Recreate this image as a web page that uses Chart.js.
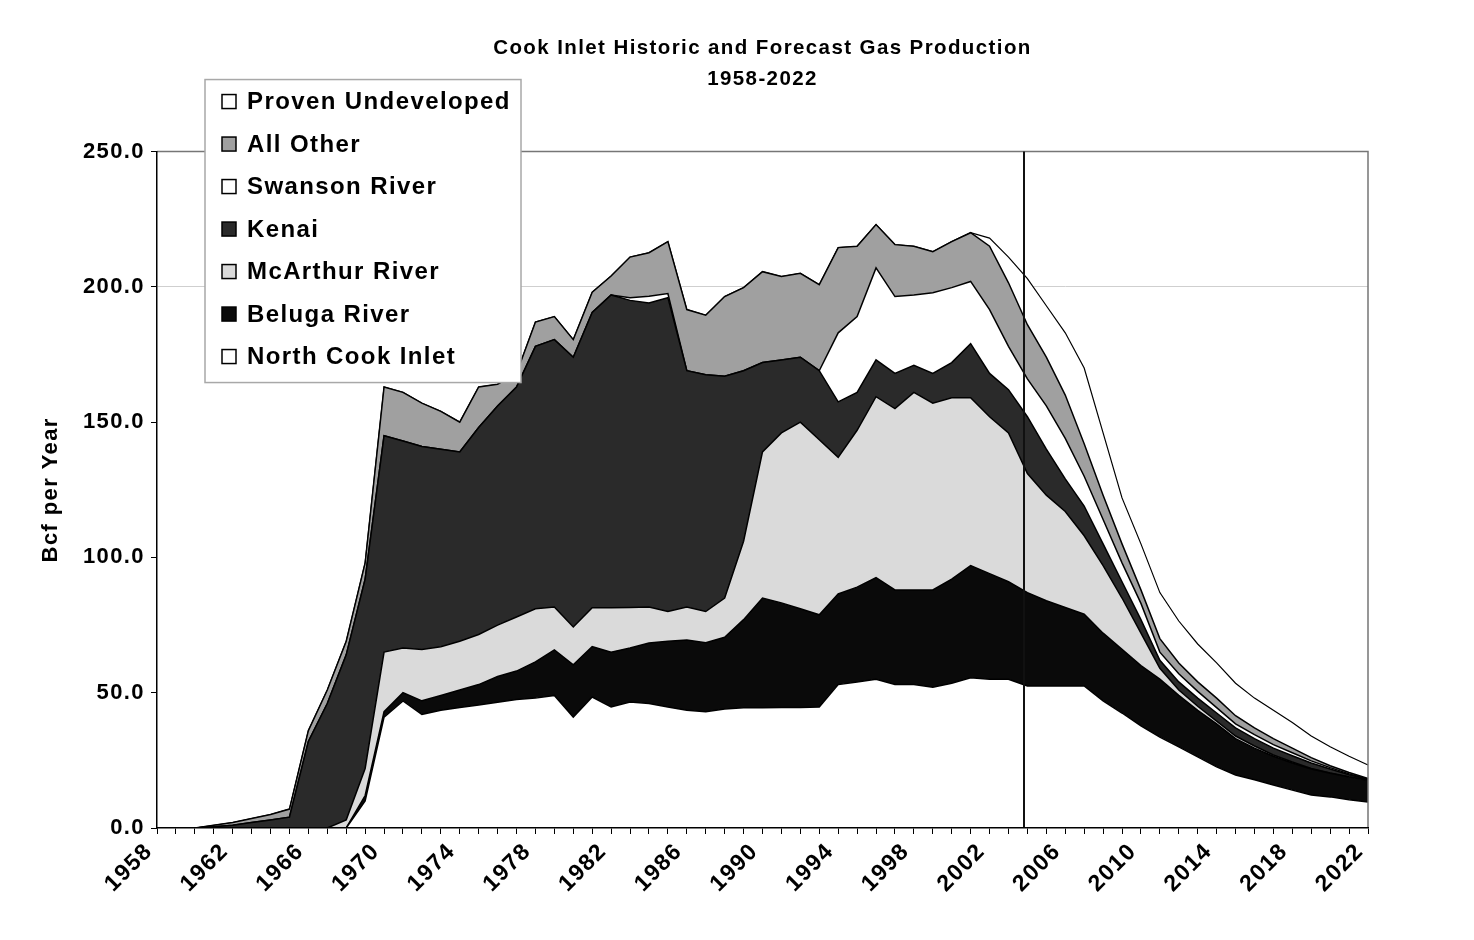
<!DOCTYPE html>
<html>
<head>
<meta charset="utf-8">
<title>Cook Inlet Historic and Forecast Gas Production</title>
<script src="https://cdn.jsdelivr.net/npm/chart.js@4.4.1/dist/chart.umd.min.js"></script>
<style>
  html, body { margin: 0; padding: 0; background: #fff; }
  #wrap { width: 1474px; height: 940px; }
</style>
</head>
<body>
<div id="wrap"><canvas id="gasChart" width="1474" height="940"></canvas></div>
<script>
// categories (years) and the point where the forecast begins
const years = ["1958","1959","1960","1961","1962","1963","1964","1965","1966","1967",
  "1968","1969","1970","1971","1972","1973","1974","1975","1976","1977",
  "1978","1979","1980","1981","1982","1983","1984","1985","1986","1987",
  "1988","1989","1990","1991","1992","1993","1994","1995","1996","1997",
  "1998","1999","2000","2001","2002","2003","2004","2005","2006","2007",
  "2008","2009","2010","2011","2012","2013","2014","2015","2016","2017",
  "2018","2019","2020","2021","2022"];
const forecastStart = "2004";

// Bcf per year (stacked bottom to top)
const northCook = [0,0,0,0,0,0,0,0,0,0,0,
  10,41,47,42,43.5,44.5,45.5,46.5,47.5,48,49,
  41,48.4,44.7,46.6,46,44.7,43.5,43,44,44.4,
  44.4,44.5,44.5,44.7,53,54,55,53,53,52,
  53.5,55.5,55,55,52.5,52.5,52.5,52.5,47,42.5,
  37.7,33.6,30,26.3,22.6,19.6,17.8,15.9,14,12.2,
  11.5,10.4,9.6];
const beluga = [0,0,0,0,0,0,0,0,0,0,0,
  2,2,3,5,5.5,6.5,7.5,9.5,10.5,13.4,16.8,
  19.3,18.6,20.3,19.9,22.4,24.3,26,25.5,26.5,32.6,
  40.6,38.7,36.5,34.1,33.5,35,37.5,35,35,36,
  38.5,41.5,39,36,34.5,31.5,29,26.5,25,23.5,
  22.3,21.4,19,17.2,15.9,13.4,11.7,10.6,10,9.6,
  8.7,8.4,8];
const mcarthur = [0,0,0,0,0,0,0,0,0,0,3,
  10,22,16.5,19,18,18,18.5,19,20,19.6,15.9,
  14,14.4,16.4,15,13.3,11,12.2,11.5,14.5,29,
  54,62.8,69,64.7,50.5,58,66.9,67,73,69,
  67,62,58,55,44,39,35.5,29,25,19,
  12,4,2,1.5,1,1,0.8,0.5,0.4,0.2,
  0.1,0.1,0.1];
const kenai = [0,0,0,0.5,1,2,3,4,32,46,61,
  70,80,76.5,75,73,70,76.5,81,85,97,98.8,
  99.7,109.1,115.6,113.5,112.3,116,87.3,87.5,82,63,
  33,27,24,25.5,20.5,14,13.6,13,10,11,
  13,20,16,16,21,17,12,11,8,6,
  5,3,3,3,3,3,2.7,2.5,2.3,2,
  1.5,0.8,0.2];
const swanson = [0,0,0,0,0,0,0,0,0,0,0,
  0,0,0,0,0,0,0,0,0,0,0,
  0,0,0,1,2.5,1.5,0,0,0,0,
  0,0,0,0,25.5,28,34,28.4,26,29.8,
  27.7,23,23.6,16,14,16,15,11,9,7,
  6,3,3,2.5,2,1.5,1.5,1.3,1.1,0.8,
  0.5,0.3,0.1];
const allOther = [0,0,0,0.5,1,1.5,2,3,4,5,5,
  6,18,18,16,14,11,15,8,5,9,8.5,
  6.5,7.5,7,15,16.1,19.2,22.6,22,29.4,30.7,
  33.6,30.8,31,31.8,31.5,26,16,19.2,18,15.2,
  17,18,23.4,23.5,20,18,16,12,9,7,
  5,5,4,3.5,3.5,3,2.5,2.2,1.7,1.2,
  0.7,0.5,0.3];
const provenUndev = [0,0,0,0,0,0,0,0,0,0,0,
  0,0,0,0,0,0,0,0,0,0,0,
  0,0,0,0,0,0,0,0,0,0,
  0,0,0,0,0,0,0,0,0,0,
  0,0,3,9.5,17,19,23,28,23,17,
  17,17,15.5,14,13,12,11,10.5,9.5,8,
  7,6,5];

const yTicks = [0, 50, 100, 150, 200, 250];

Chart.defaults.font.family = '"Liberation Sans", Arial, Helvetica, sans-serif';
Chart.defaults.font.weight = 'bold';
Chart.defaults.color = '#000';

// the scanned original has loosely spaced lettering
const spacing = {
  id: 'spacing',
  beforeLayout(chart) { chart.ctx.letterSpacing = '1.4px'; },
  beforeDraw(chart) { chart.ctx.letterSpacing = '1.4px'; }
};

// grey frame on top/right and the historic/forecast divider
const frame = {
  id: 'frame',
  afterDatasetsDraw(chart) {
    const { ctx, chartArea } = chart;
    const xs = chart.scales.x;
    ctx.save();
    ctx.strokeStyle = '#767676';
    ctx.lineWidth = 1.5;
    ctx.beginPath();
    ctx.moveTo(chartArea.left, chartArea.top);
    ctx.lineTo(chartArea.right, chartArea.top);
    ctx.lineTo(chartArea.right, chartArea.bottom);
    ctx.stroke();
    const fx = Math.round(xs.getPixelForValue(years.indexOf(forecastStart) - 0.2));
    ctx.strokeStyle = '#111';
    ctx.lineWidth = 2;
    ctx.beginPath();
    ctx.moveTo(fx, chartArea.top);
    ctx.lineTo(fx, chartArea.bottom);
    ctx.stroke();
    ctx.restore();
  }
};

// boxed legend sitting over the upper left of the plot
const legendBox = {
  id: 'legendBox',
  afterDraw(chart) {
    const { ctx, chartArea } = chart;
    const x0 = chartArea.left + 48;
    const y0 = chartArea.top - 72;
    const w = 316, h = 303, row = 42.5;
    ctx.save();
    ctx.fillStyle = '#fff';
    ctx.fillRect(x0, y0, w, h);
    ctx.strokeStyle = '#a8a8a8';
    ctx.lineWidth = 1.5;
    ctx.strokeRect(x0, y0, w, h);
    ctx.font = 'bold 24px "Liberation Sans", Arial, sans-serif';
    ctx.textBaseline = 'middle';
    ctx.textAlign = 'left';
    const sets = chart.data.datasets.slice().reverse();
    sets.forEach((ds, i) => {
      const cy = y0 + 22 + i * row;
      ctx.fillStyle = ds.backgroundColor;
      ctx.fillRect(x0 + 17, cy - 7, 14, 14);
      ctx.strokeStyle = '#000';
      ctx.lineWidth = 1.5;
      ctx.strokeRect(x0 + 17, cy - 7, 14, 14);
      ctx.fillStyle = '#000';
      ctx.fillText(ds.label, x0 + 42, cy + 1);
    });
    ctx.restore();
  }
};

function layer(label, data, fill, color, width) {
  return {
    label: label,
    data: data,
    fill: fill,
    backgroundColor: color,
    borderColor: '#000',
    borderWidth: width || 1.5,
    pointRadius: 0,
    tension: 0
  };
}

const ctx = document.getElementById('gasChart').getContext('2d');
const chart = new Chart(ctx, {
  type: 'line',
  data: {
    labels: years,
    datasets: [
      layer('North Cook Inlet', northCook, 'origin', '#ffffff'),
      layer('Beluga River', beluga, '-1', '#0a0a0a'),
      layer('McArthur River', mcarthur, '-1', '#dadada'),
      layer('Kenai', kenai, '-1', '#2a2a2a'),
      layer('Swanson River', swanson, '-1', '#ffffff'),
      layer('All Other', allOther, '-1', '#a0a0a0'),
      layer('Proven Undeveloped', provenUndev, '-1', '#ffffff', 1.2)
    ]
  },
  options: {
    responsive: false,
    devicePixelRatio: 1,
    animation: false,
    events: [],
    layout: { padding: { left: 0, right: 106, top: 0, bottom: 0 } },
    plugins: {
      legend: { display: false },
      tooltip: { enabled: false },
      title: {
        display: true,
        fullSize: false,
        text: ['Cook Inlet Historic and Forecast Gas Production', '1958-2022'],
        font: { size: 20.5, weight: 'bold', lineHeight: 1.55 },
        color: '#000',
        padding: { top: 32, bottom: 56 }
      }
    },
    scales: {
      x: {
        type: 'category',
        offset: false,
        afterFit(scale) { scale.height = 112; },
        grid: {
          display: true,
          drawOnChartArea: false,
          drawTicks: true,
          tickLength: 6,
          tickColor: '#000',
          tickWidth: 1
        },
        border: { display: true, color: '#000', width: 1.5, z: 1 },
        ticks: {
          autoSkip: false,
          minRotation: 45,
          maxRotation: 45,
          padding: 4,
          labelOffset: -8,
          font: { size: 23, weight: 'bold' },
          color: '#000',
          callback: function (value, index) {
            return index % 4 === 0 ? years[index] : '';
          }
        }
      },
      y: {
        stacked: true,
        min: yTicks[0],
        max: yTicks[yTicks.length - 1],
        afterFit(scale) { scale.width = 157; },
        afterBuildTicks(scale) { scale.ticks = yTicks.map(v => ({ value: v })); },
        grid: {
          color: c => (c.tick && c.tick.value === 200 ? '#cfcfcf' : 'rgba(0,0,0,0)'),
          drawTicks: true,
          tickLength: 6,
          tickColor: '#000'
        },
        border: { display: true, color: '#000', width: 1.5, z: 1 },
        ticks: {
          padding: 6,
          font: { size: 22, weight: 'bold' },
          color: '#000',
          callback: v => Number(v).toFixed(1)
        },
        title: {
          display: true,
          text: 'Bcf per Year',
          font: { size: 22, weight: 'bold' },
          color: '#000',
          padding: { top: 38, bottom: 0 }
        }
      }
    }
  },
  plugins: [spacing, frame, legendBox]
});
</script>
</body>
</html>
